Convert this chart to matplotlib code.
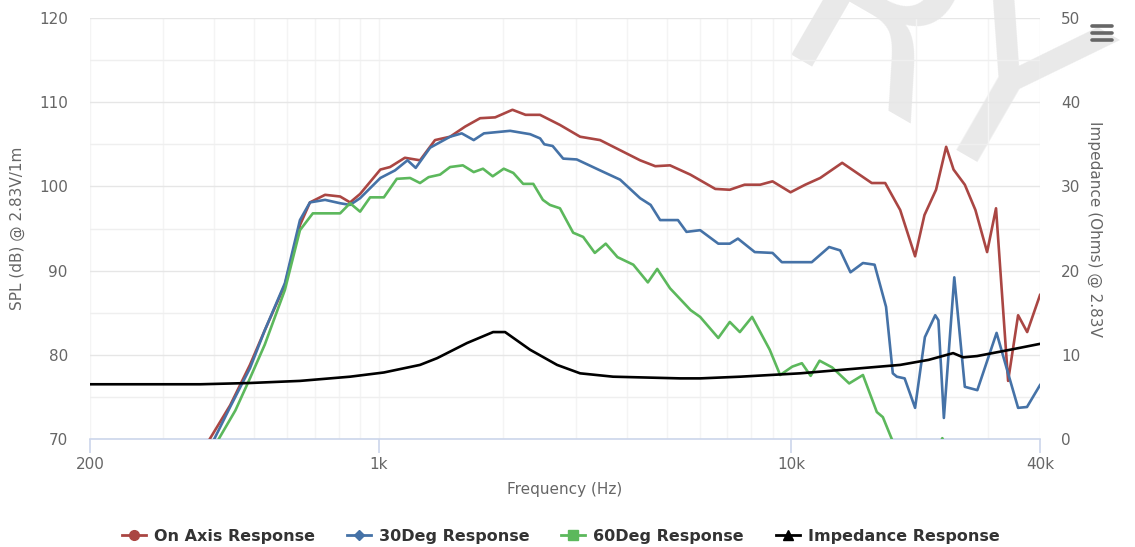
import numpy as np
import matplotlib
matplotlib.use("Agg")
import matplotlib.pyplot as plt
from matplotlib.lines import Line2D
from matplotlib.ticker import FixedLocator, NullFormatter

# values
on_f = [330, 390, 437, 488, 530, 593, 645, 682, 742, 807, 853, 902, 1010, 1066, 1158, 1260,
        1370, 1490, 1620, 1762, 1916, 2110, 2270, 2460, 2750, 3077, 3440, 3846, 4300, 4680,
        5080, 5690, 6540, 7090, 7700, 8400, 9000, 9950, 10800, 11739, 13270, 15650, 16870,
        18340, 19930, 21000, 22400, 23700, 24700, 26300, 27900, 29780, 31300, 33480, 35400,
        37240, 40000]
on_db = [62, 70, 74.0, 78.8, 82.9, 88.3, 95.4, 98.1, 99.0, 98.8, 98.1, 99.1, 102.0, 102.3,
         103.4, 103.1, 105.5, 105.9, 107.1, 108.1, 108.2, 109.1, 108.5, 108.5, 107.3, 105.9,
         105.5, 104.3, 103.1, 102.4, 102.5, 101.4, 99.7, 99.6, 100.2, 100.2, 100.6, 99.3,
         100.2, 101.0, 102.8, 100.4, 100.4, 97.2, 91.7, 96.6, 99.6, 104.7, 102.0, 100.2, 97.2,
         92.2, 97.4, 76.9, 84.7, 82.7, 87.1]

d30_f = [335, 400, 437, 488, 530, 593, 645, 682, 742, 807, 853, 902, 1010, 1096, 1175, 1230,
         1333, 1490, 1590, 1700, 1800, 2083, 2329, 2462, 2520, 2640, 2800, 3020, 3440, 3846,
         4300, 4560, 4808, 5310, 5570, 6010, 6650, 7090, 7420, 8150, 9000, 9480, 11200, 12340,
         13124, 13900, 14900, 15900, 16950, 17600, 18000, 18800, 19930, 21050, 22300, 22700,
         23400, 24800, 26300, 28200, 31400, 33300, 35400, 37200, 40000]
d30_db = [62, 70, 73.8, 78.4, 82.9, 88.5, 96.0, 98.1, 98.4, 98.0, 97.8, 98.6, 101.0, 101.9,
          103.1, 102.2, 104.6, 105.9, 106.3, 105.5, 106.3, 106.6, 106.2, 105.7, 105.0, 104.8,
          103.3, 103.2, 101.9, 100.8, 98.6, 97.8, 96.0, 96.0, 94.6, 94.8, 93.2, 93.2, 93.8,
          92.2, 92.1, 91.0, 91.0, 92.8, 92.4, 89.8, 90.9, 90.7, 85.7, 77.8, 77.4, 77.2, 73.7,
          82.1, 84.7, 84.1, 72.5, 89.2, 76.2, 75.8, 82.6, 78.2, 73.7, 73.8, 76.4]

d60_f = [345, 410, 450, 488, 530, 593, 645, 693, 807, 853, 902, 954, 1030, 1107, 1192, 1260,
         1322, 1409, 1490, 1600, 1700, 1790, 1890, 2010, 2120, 2240, 2370, 2500, 2600, 2750,
         2960, 3130, 3340, 3550, 3790, 4140, 4490, 4730, 5080, 5700, 6010, 6650, 7090, 7500,
         8030, 8860, 9390, 10050, 10600, 11130, 11700, 12550, 13800, 14900, 16100, 16650,
         17500, 19000, 21500, 23200, 25000, 40000]
d60_db = [62, 70, 73.4, 77.2, 81.2, 87.7, 94.8, 96.8, 96.8, 98.0, 97.0, 98.7, 98.7, 100.9,
          101.0, 100.4, 101.1, 101.4, 102.3, 102.5, 101.7, 102.1, 101.2, 102.1, 101.6, 100.3,
          100.3, 98.4, 97.8, 97.4, 94.5, 94.0, 92.1, 93.2, 91.6, 90.7, 88.6, 90.2, 87.9, 85.3,
          84.5, 82.0, 83.9, 82.7, 84.5, 80.6, 77.6, 78.6, 79.0, 77.5, 79.3, 78.5, 76.6, 77.6,
          73.2, 72.6, 70.0, 66.0, 66.5, 70.1, 66.0, 60.0]

imp_f = [200, 370, 488, 645, 853, 1030, 1260, 1386, 1638, 1894, 2025, 2328, 2706, 3077, 3698,
         5375, 6010, 7512, 10500, 14673, 18340, 21500, 24640, 26060, 28160, 33860, 40000]
imp_ohm = [6.5, 6.5, 6.65, 6.9, 7.4, 7.9, 8.8, 9.6, 11.4, 12.7, 12.7, 10.6, 8.8, 7.8, 7.4,
           7.2, 7.2, 7.4, 7.8, 8.4, 8.8, 9.4, 10.2, 9.7, 9.85, 10.6, 11.3]

names = ["On Axis Response", "30Deg Response", "60Deg Response", "Impedance Response"]
colors = ["#AA4643", "#4572A7", "#5cb85c", "#000000"]
markers = ["o", "D", "s", "^"]

fig = plt.figure(figsize=(11.35, 5.47), dpi=100)
ax = fig.add_axes([90/1135, 108/547, 950/1135, 421/547])
ax2 = ax.twinx()

# watermark
fig.text(0.82, 0.87, "RY", fontsize=175, color="#e9e9e9", rotation=-30,
         ha="center", va="center", zorder=0, family="DejaVu Sans")

ax.set_xscale("log")
ax.set_xlim(200, 40000)
ax.set_ylim(70, 120)
ax2.set_ylim(0, 50)

ax.plot(on_f, on_db, color=colors[0], lw=1.9, solid_joinstyle="round", zorder=3)
ax.plot(d30_f, d30_db, color=colors[1], lw=1.9, solid_joinstyle="round", zorder=3)
ax.plot(d60_f, d60_db, color=colors[2], lw=1.9, solid_joinstyle="round", zorder=3)
ax2.plot(imp_f, imp_ohm, color=colors[3], lw=1.9, solid_joinstyle="round", zorder=3)

ax.set_zorder(2)
ax2.set_zorder(3)
ax.patch.set_visible(False)
ax2.patch.set_visible(False)

# ticks / grid
ax.xaxis.set_major_locator(FixedLocator([200, 1000, 10000, 40000]))
ax.set_xticklabels(["200", "1k", "10k", "40k"])
minors = [m * d for d in (100, 1000, 10000) for m in range(2, 10)]
minors = [v for v in minors if 200 < v < 40000 and v not in (1000, 10000)]
ax.xaxis.set_minor_locator(FixedLocator(minors))
ax.xaxis.set_minor_formatter(NullFormatter())
ax.set_yticks(range(70, 121, 10))
ax.set_yticks(range(75, 120, 10), minor=True)
ax2.set_yticks(range(0, 51, 10))

ax.grid(True, which="major", axis="y", color="#e6e6e6", lw=1)
ax.grid(True, which="minor", axis="y", color="#efefef", lw=1)
ax.grid(True, which="minor", axis="x", color="#f4f4f4", lw=1)
ax.grid(True, which="major", axis="x", color="#f4f4f4", lw=1)

ax.tick_params(axis="x", which="major", length=10, width=1.2, color="#ccd6eb",
               labelcolor="#666666", labelsize=11, pad=3)
ax.tick_params(axis="x", which="minor", length=0)
ax.tick_params(axis="y", which="both", length=0, labelcolor="#666666", labelsize=11, pad=16)
ax2.tick_params(axis="y", length=0, labelcolor="#666666", labelsize=11, pad=15)

for a in (ax, ax2):
    for s in ("top", "left", "right", "bottom"):
        a.spines[s].set_visible(False)
ax.spines["bottom"].set_visible(True)
ax.spines["bottom"].set_color("#ccd6eb")
ax.spines["bottom"].set_linewidth(1.2)

ax.set_xlabel("Frequency (Hz)", color="#666666", fontsize=11, labelpad=7)
ax.set_ylabel("SPL (dB) @ 2.83V/1m", color="#666666", fontsize=11, labelpad=10)
ax2.set_ylabel("Impedance (Ohms) @ 2.83V", color="#666666", fontsize=11,
               rotation=270, labelpad=16)

# menu icon
for yy in (26, 33, 40):
    fig.add_artist(Line2D([1092/1135, 1112/1135], [1 - yy/547, 1 - yy/547],
                          color="#666666", lw=2.6, solid_capstyle="round"))

handles = [Line2D([], [], color=c, marker=m, lw=2, markersize=7 if m != "D" else 5.5)
           for c, m in zip(colors, markers)]
leg = fig.legend(handles, names, loc="center", bbox_to_anchor=(0.494, 1 - 536/547),
                 ncol=4, frameon=False, fontsize=11.5, handlelength=1.5,
                 columnspacing=2.0, handletextpad=0.5)
for t in leg.get_texts():
    t.set_color("#333333")
    t.set_fontweight("bold")

fig.savefig("out.png", dpi=100)
